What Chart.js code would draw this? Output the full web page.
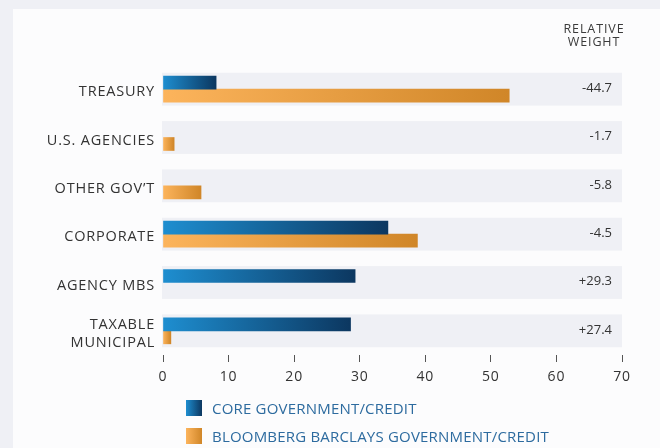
<!DOCTYPE html>
<html><head><meta charset="utf-8">
<script src="https://cdn.jsdelivr.net/npm/chart.js@4/dist/chart.umd.min.js"></script>
<style>
html,body{margin:0;padding:0;width:660px;height:448px;overflow:hidden;background:#eff0f5;}
#panel{position:absolute;left:13px;top:9px;width:647px;height:439px;background:#fcfcfd;}
#wrap{position:absolute;left:0;top:0;width:660px;height:448px;}
#hdr{position:absolute;left:544px;width:100px;top:22px;text-align:center;font:12.5px "Open Sans";letter-spacing:0.9px;color:#3a3a3a;line-height:13px;}
.leg{position:absolute;left:186px;height:16px;display:flex;align-items:center;font:15px "Open Sans";letter-spacing:0.2px;color:#2d6b9f;white-space:nowrap;}
.sw{width:16px;height:16px;margin-right:10px;flex:none;}
</style></head>
<body>
<div id="panel"></div>
<div id="wrap"><canvas id="c" width="660" height="448"></canvas></div>
<div id="hdr">RELATIVE<br>WEIGHT</div>
<div class="leg" style="top:400px"><div class="sw" style="background:linear-gradient(90deg,#1e8ed0,#0c3760)"></div>CORE GOVERNMENT/CREDIT</div>
<div class="leg" style="top:428px"><div class="sw" style="background:linear-gradient(90deg,#fcb45c,#d08628)"></div>BLOOMBERG BARCLAYS GOVERNMENT/CREDIT</div>
<script>
const categories = ['TREASURY', 'U.S. AGENCIES', "OTHER GOV\u2019T", 'CORPORATE', 'AGENCY MBS', ['TAXABLE', 'MUNICIPAL']];
const coreValues = [8.1, 0, 0, 34.3, 29.3, 28.6];
const benchmarkValues = [52.8, 1.7, 5.8, 38.8, 0, 1.2];
const relativeWeights = ['-44.7', '-1.7', '-5.8', '-4.5', '+29.3', '+27.4'];
const xTicksMax = 70;

function grad(ctx, c0, c1) {
  const chart = ctx.chart;
  const v = ctx.raw || 0;
  if (v <= 0) return 'rgba(0,0,0,0)';
  if (!chart.chartArea) return c1;
  const xs = chart.scales.x;
  const a = xs.getPixelForValue(0), b = xs.getPixelForValue(v);
  if (b - a < 1) return c0;
  const g = chart.ctx.createLinearGradient(a, 0, b, 0);
  g.addColorStop(0, c0); g.addColorStop(1, c1);
  return g;
}

const bandPlugin = {
  id: 'bands',
  beforeDraw(chart) {
    chart.ctx.letterSpacing = '0.8px';
  },
  beforeDatasetsDraw(chart) {
    const {ctx, scales: {x, y}} = chart;
    const x0 = x.getPixelForValue(0), x1 = x.getPixelForValue(xTicksMax);
    const step = y.getPixelForValue(1) - y.getPixelForValue(0);
    ctx.save();
    ctx.fillStyle = '#eff0f5';
    categories.forEach((c, i) => {
      const cy = y.getPixelForValue(i);
      ctx.fillRect(x0 - 1, cy - step * 0.34, x1 - x0 + 1, step * 0.68);
    });
    ctx.restore();
  },
  afterDatasetsDraw(chart) {
    const {ctx, scales: {x, y}} = chart;
    const x1 = x.getPixelForValue(xTicksMax);
    ctx.save();
    ctx.letterSpacing = '0px';
    ctx.fillStyle = '#333';
    ctx.font = '13px "Open Sans"';
    ctx.textAlign = 'right';
    ctx.textBaseline = 'middle';
    relativeWeights.forEach((t, i) => {
      ctx.fillText(t, x1 - 10, y.getPixelForValue(i) - 1);
    });
    ctx.restore();
  }
};

new Chart(document.getElementById('c'), {
  type: 'bar',
  data: {
    labels: categories,
    datasets: [
      {label: 'CORE GOVERNMENT/CREDIT', data: coreValues,
       backgroundColor: ctx => grad(ctx, '#1e8ed0', '#0c3760'), barThickness: 13},
      {label: 'BLOOMBERG BARCLAYS GOVERNMENT/CREDIT', data: benchmarkValues,
       backgroundColor: ctx => grad(ctx, '#fcb45c', '#d08628'), barThickness: 13}
    ]
  },
  options: {
    indexAxis: 'y',
    responsive: false,
    animation: false,
    layout: {padding: {left: 13, right: 38, top: 65, bottom: 63}},
    plugins: {legend: {display: false}, tooltip: {enabled: false}},
    scales: {
      x: {
        min: 0, max: xTicksMax,
        ticks: {stepSize: 10, color: '#333', font: {family: 'Open Sans', size: 14}, padding: 7},
        grid: {display: true, drawOnChartArea: false, drawTicks: true, tickLength: 7, color: '#555'},
        border: {display: false},
        afterFit(s) { s.height = 30; }
      },
      y: {
        ticks: {color: '#333', font: {family: 'Open Sans', size: 14.5, lineHeight: 1.25}, padding: 0, labelOffset: 3},
        grid: {display: false},
        border: {display: false},
        afterFit(s) { s.width = 150; }
      }
    }
  },
  plugins: [bandPlugin]
});
</script>
</body></html>
